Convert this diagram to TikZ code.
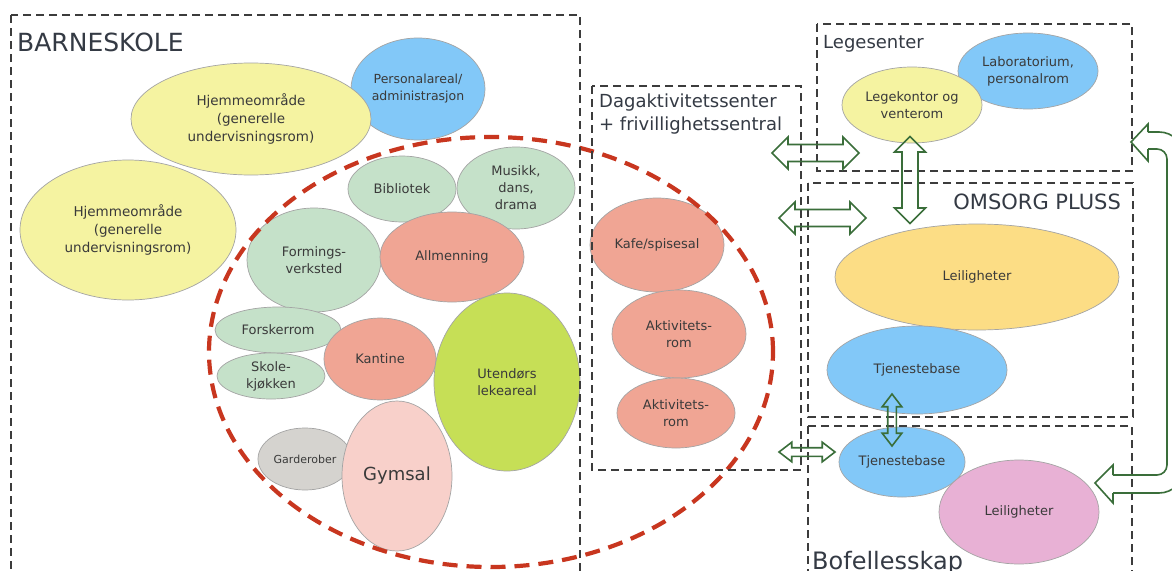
\documentclass[tikz,border=0pt]{standalone}
\usepackage{fontspec}
\setmainfont{DejaVu Sans}
\usetikzlibrary{shapes.geometric,shapes.arrows}

\definecolor{hjemyellow}{HTML}{F5F3A1}
\definecolor{skyblue}{HTML}{82C8F8}
\definecolor{palegreen}{HTML}{C5E1C9}
\definecolor{salmon}{HTML}{F0A594}
\definecolor{limegreen}{HTML}{C6DF56}
\definecolor{stonegrey}{HTML}{D5D3CF}
\definecolor{palepink}{HTML}{F8D0CA}
\definecolor{sunyellow}{HTML}{FCDD85}
\definecolor{orchid}{HTML}{E8B1D5}
\definecolor{roomedge}{HTML}{A4A4A4}
\definecolor{roomtext}{HTML}{3A3A3A}
\definecolor{titletext}{HTML}{343A44}
\definecolor{zonegrey}{HTML}{3C3C3C}
\definecolor{ringred}{HTML}{C8361F}
\definecolor{linkgreen}{HTML}{3A6E3A}

\tikzset{
  room/.style={ellipse, draw=roomedge, line width=0.7pt, inner sep=0pt,
    align=center, text=roomtext, font=\fontsize{13}{17}\selectfont},
  zone/.style={draw=zonegrey, line width=2.4pt, dash pattern=on 8pt off 5pt},
  zonetitle/.style={anchor=base west, inner sep=0pt, text=titletext},
  ring/.style={draw=ringred, line width=4.2pt, dash pattern=on 15pt off 9pt},
  link/.style={double arrow, draw=linkgreen, line width=1.6pt, inner xsep=0pt,
    inner ysep=7.7pt, double arrow head extend=7.5pt, minimum height=87pt},
  uplink/.style={shape border rotate=90, inner xsep=7.2pt, inner ysep=0pt},
  smalllink/.style={inner ysep=3.5pt, double arrow head extend=5.5pt,
    double arrow tip angle=75, minimum height=52pt},
  bentlink/.style={draw=linkgreen, line width=1.6pt, line join=miter}
}

\begin{document}
\begin{tikzpicture}[x=1pt,y=-1pt]
  \fill[white] (0,0) rectangle (1172,570);
  \useasboundingbox (0,0) rectangle (1172,570);

  % barneskole
  \node[room, fill=skyblue, minimum width=134pt, minimum height=102pt,
    font=\fontsize{12.5}{17}\selectfont] (admin) at (418,89) {Personalareal/\\administrasjon};
  \node[room, fill=hjemyellow, minimum width=240pt, minimum height=112pt,
    font=\fontsize{13.5}{18}\selectfont] (hjemA) at (251,119) {Hjemmeområde\\(generelle\\undervisningsrom)};
  \node[room, fill=hjemyellow, minimum width=216pt, minimum height=140pt,
    font=\fontsize{13.5}{18}\selectfont] (hjemB) at (128,230) {Hjemmeområde\\(generelle\\undervisningsrom)};
  \node[room, fill=palegreen, minimum width=108pt, minimum height=66pt] (bibl) at (402,189) {Bibliotek};
  \node[room, fill=palegreen, minimum width=118pt, minimum height=82pt] (musikk) at (516,188) {Musikk,\\dans,\\drama};
  \node[room, fill=palegreen, minimum width=134pt, minimum height=104pt] (forming) at (314,260) {Formings-\\verksted};
  \node[room, fill=salmon, minimum width=144pt, minimum height=90pt] (allm) at (452,257) {Allmenning};
  \node[room, fill=palegreen, minimum width=126pt, minimum height=46pt] (forsker) at (278,330) {Forskerrom};
  \node[room, fill=palegreen, minimum width=108pt, minimum height=46pt] (kjokken) at (271,376) {Skole-\\kjøkken};
  \node[room, fill=salmon, minimum width=112pt, minimum height=82pt] (kantine) at (380,359) {Kantine};
  \node[room, fill=limegreen, minimum width=146pt, minimum height=178pt] (ute) at (507,382) {Utendørs\\lekeareal};
  \node[room, fill=stonegrey, minimum width=94pt, minimum height=62pt,
    font=\fontsize{11}{14}\selectfont] (garde) at (305,459) {Garderober};
  \node[room, fill=palepink, minimum width=110pt, minimum height=150pt,
    font=\fontsize{18}{22}\selectfont] (gym) at (397,476) {Gymsal};

  % dagaktivitetssenter
  \node[room, fill=salmon, minimum width=134pt, minimum height=94pt] (kafe) at (657,245) {Kafe/spisesal};
  \node[room, fill=salmon, minimum width=134pt, minimum height=88pt] (aktA) at (679,334) {Aktivitets-\\rom};
  \node[room, fill=salmon, minimum width=118pt, minimum height=70pt] (aktB) at (676,413) {Aktivitets-\\rom};

  % legesenter, omsorg pluss, bofellesskap
  \node[room, fill=skyblue, minimum width=140pt, minimum height=76pt] (lab) at (1028,71) {Laboratorium,\\personalrom};
  \node[room, fill=hjemyellow, minimum width=140pt, minimum height=76pt] (lege) at (912,105) {Legekontor og\\venterom};
  \node[room, fill=sunyellow, minimum width=284pt, minimum height=106pt] (leilA) at (977,277) {Leiligheter};
  \node[room, fill=skyblue, minimum width=180pt, minimum height=88pt] (tjenA) at (917,370) {Tjenestebase};
  \node[room, fill=skyblue, minimum width=126pt, minimum height=70pt] (tjenB) at (902,462) {Tjenestebase};
  \node[room, fill=orchid, minimum width=160pt, minimum height=104pt] (leilB) at (1019,512) {Leiligheter};

  \draw[ring] (491,352) ellipse [x radius=282pt, y radius=215pt];

  \draw[zone] (11,15) rectangle (580,600);
  \draw[zone] (592,86) rectangle (801,470);
  \draw[zone] (817,24) rectangle (1132,171);
  \draw[zone] (808,183) rectangle (1133,417);
  \draw[zone] (808,426) rectangle (1132,600);

  \node[zonetitle, font=\fontsize{25}{30}\selectfont] (barnetitle) at (17,51) {BARNESKOLE};
  \node[zonetitle, font=\fontsize{18}{23}\selectfont] (dagtitle) at (599,107) {Dagaktivitetssenter};
  \node[zonetitle, font=\fontsize{18}{23}\selectfont] (dagsub) at (599,130) {+ frivillighetssentral};
  \node[zonetitle, font=\fontsize{18}{23}\selectfont] (legetitle) at (823,48) {Legesenter};
  \node[zonetitle, anchor=base east, font=\fontsize{21}{25}\selectfont] (omsorgtitle) at (1121,209) {OMSORG PLUSS};
  \node[zonetitle, font=\fontsize{24}{29}\selectfont] (botitle) at (812,569) {Bofellesskap};

  % arrows
  \node[link] (lnkA) at (815.5,153) {};
  \node[link] (lnkB) at (822.5,218) {};
  \node[link, uplink] (lnkC) at (910,180) {};
  \node[link, smalllink, uplink, inner xsep=3.5pt] (lnkD) at (892,420) {};
  \node[link, smalllink, minimum height=56pt] (lnkE) at (807,452) {};

  \coordinate (backtip) at (1131,142);
  \coordinate (fronttip) at (1095,483);
  \draw[bentlink, rounded corners=25pt] (1148,132) -- (1184,132) -- (1184,493) -- (1113,493);
  \draw[bentlink, rounded corners=10pt] (1148,149) -- (1167,149) -- (1167,475) -- (1113,475);
  \draw[bentlink] (1148,132) -- (1148,124) -- (backtip) -- (1148,161) -- (1148,149);
  \draw[bentlink] (1113,493) -- (1113,503) -- (fronttip) -- (1113,465) -- (1113,475);
\end{tikzpicture}
\end{document}
